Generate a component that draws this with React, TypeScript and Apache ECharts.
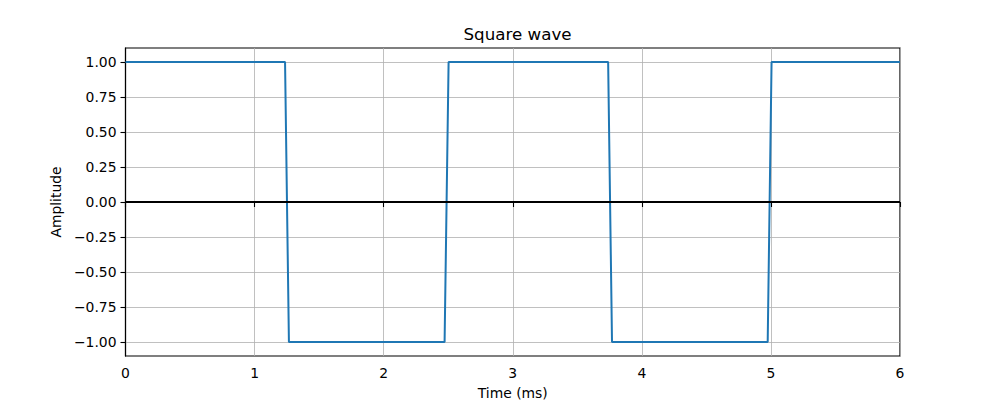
import React, { useEffect, useRef } from "react";
import * as echarts from "echarts";

const timeMs = [0, 1.236, 1.266, 2.472, 2.503, 3.739, 3.769, 4.975, 5.005, 6.0];
const amplitude = [1, 1, -1, -1, 1, 1, -1, -1, 1, 1];
const zeroLineX = [0, 6];
const zeroLineY = [0, 0];
const yTicks = [-1, -0.75, -0.5, -0.25, 0, 0.25, 0.5, 0.75, 1];
const xTicks = [0, 1, 2, 3, 4, 5, 6];

const FONT = "DejaVu Sans";

function fmtY(v: number): string {
  const s = Math.abs(v).toFixed(2);
  return v < 0 ? "\u2212" + s : s;
}

export default function App() {
  const ref = useRef<HTMLDivElement>(null);
  useEffect(() => {
    if (!ref.current) return;
    const chart = echarts.init(ref.current, null, { renderer: "svg" });
    chart.setOption({
      animation: false,
      backgroundColor: "#ffffff",
      title: {
        text: "Square wave",
        left: 512.5,
        textAlign: "center",
        top: 20,
        textStyle: { fontFamily: FONT, fontSize: 16.7, fontWeight: "normal", color: "#000" },
      },
      grid: {
        left: 125.5,
        right: 100,
        top: 48,
        bottom: 44,
        outerBoundsMode: "none",
        containLabel: false,
        show: true,
        borderColor: "#000",
        borderWidth: 1.2,
        backgroundColor: "transparent",
      },
      xAxis: {
        type: "value",
        min: 0,
        max: 6,
        interval: 1,
        name: "Time (ms)",
        nameLocation: "middle",
        nameGap: 30,
        nameTextStyle: { fontFamily: FONT, fontSize: 13.9, color: "#000" },
        axisLine: { show: true, lineStyle: { color: "#000", width: 1.1 } },
        axisTick: { show: true, inside: false, length: 5, lineStyle: { color: "#000", width: 1.1 }, customValues: xTicks },
        axisLabel: {
          fontFamily: FONT,
          fontSize: 13.9,
          color: "#000",
          margin: 10,
          customValues: xTicks,
          formatter: (v: number) => String(v),
        },
        splitLine: { show: true, lineStyle: { color: "#b0b0b0", width: 0.8 } },
      },
      yAxis: {
        type: "value",
        min: -1.1,
        max: 1.1,
        name: "Amplitude",
        nameLocation: "middle",
        nameRotate: 90,
        nameGap: 58,
        nameTextStyle: { fontFamily: FONT, fontSize: 13.9, color: "#000" },
        axisLine: { show: true, lineStyle: { color: "#000", width: 1.1 } },
        axisTick: { show: true, inside: false, length: 5, lineStyle: { color: "#000", width: 1.1 }, customValues: yTicks },
        axisLabel: {
          fontFamily: FONT,
          fontSize: 13.9,
          color: "#000",
          margin: 9,
          customValues: yTicks,
          formatter: (v: number) => fmtY(v),
        },
        splitLine: { show: true, lineStyle: { color: "#b0b0b0", width: 0.8 } },
      },
      series: [
        {
          type: "line",
          data: timeMs.map((t, i) => [t, amplitude[i]]),
          showSymbol: false,
          symbol: "none",
          lineStyle: { color: "#1f77b4", width: 2 },
          z: 2,
        },
        {
          type: "line",
          data: zeroLineX.map((t, i) => [t, zeroLineY[i]]),
          showSymbol: false,
          symbol: "none",
          lineStyle: { color: "#000", width: 2 },
          z: 3,
        },
      ],
    });
    return () => chart.dispose();
  }, []);
  return <div ref={ref} style={{ position: "absolute", left: 0, top: 0, width: 1000, height: 400 }} />;
}
